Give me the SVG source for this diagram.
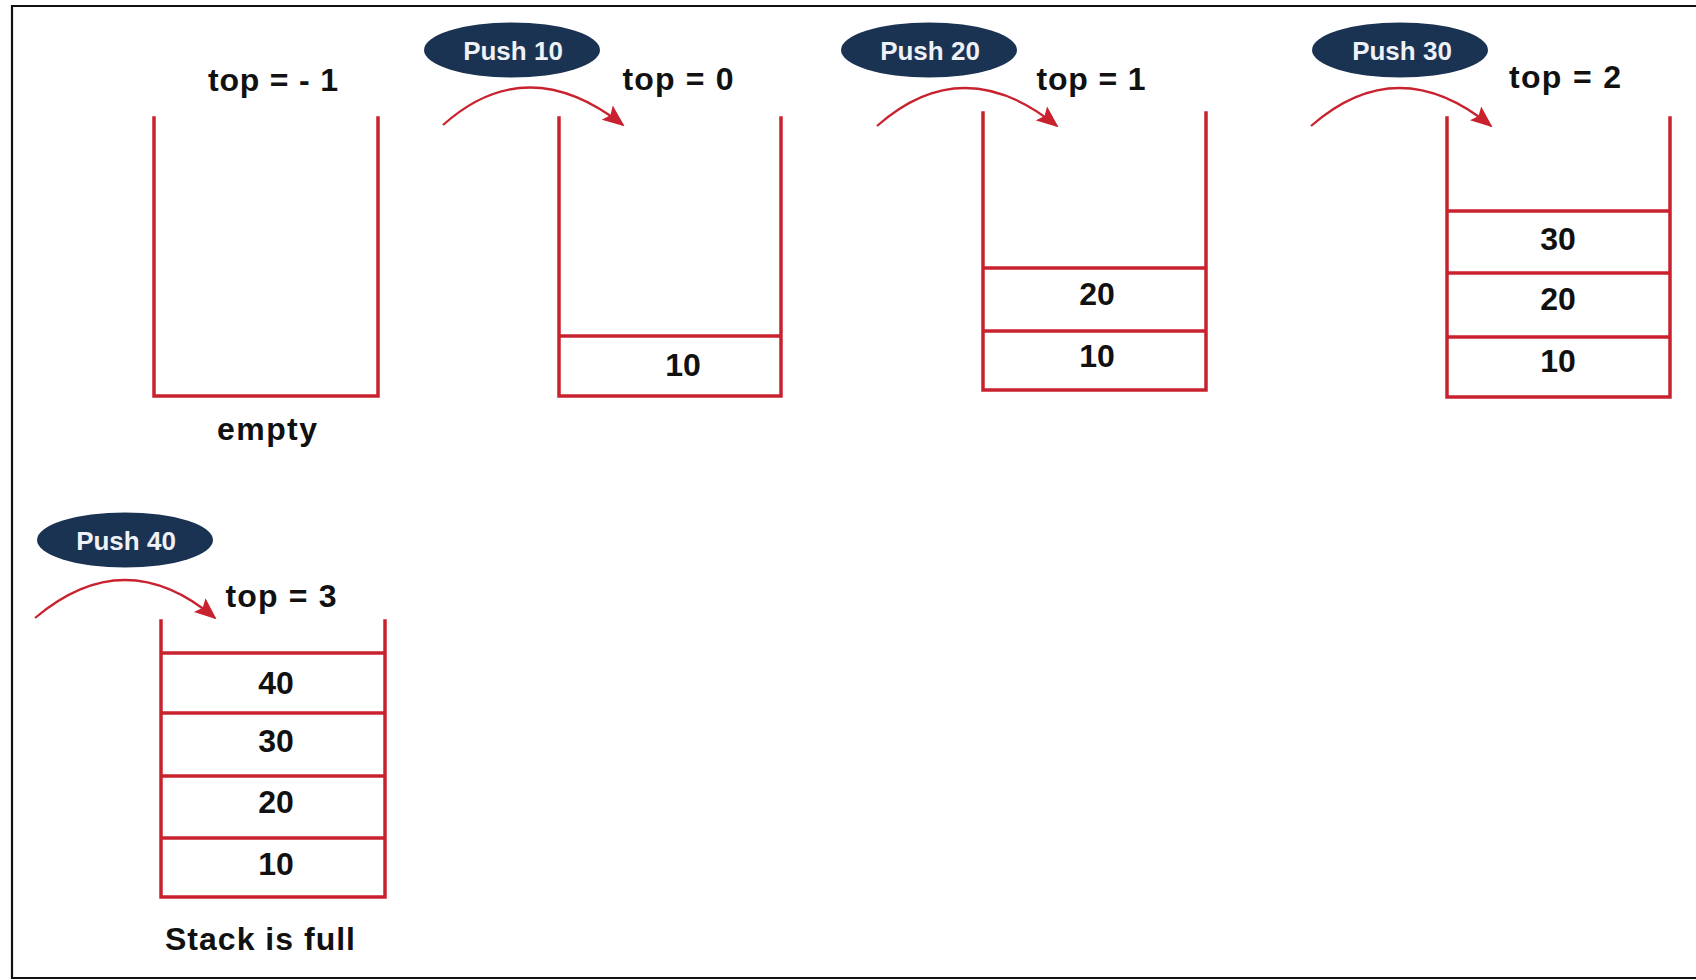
<svg xmlns="http://www.w3.org/2000/svg" width="1696" height="980" viewBox="0 0 1696 980">
  <style>
    .stack { fill: none; stroke: #c9222f; stroke-width: 3.5; stroke-linecap: square; }
    .cell { stroke: #c9222f; stroke-width: 3.5; }
    .lbl { font-family: "Liberation Sans", Arial, sans-serif; font-weight: bold; font-size: 32px; fill: #111; text-anchor: middle; }
    .pill { fill: #1b3353; }
    .pilltxt { font-family: "Liberation Sans", Arial, sans-serif; font-weight: bold; font-size: 26px; fill: #eef1f5; text-anchor: middle; }
    .push { fill: none; stroke: #c9222f; stroke-width: 2.2; }
  </style>
  <defs>
    <marker id="head" markerUnits="userSpaceOnUse" markerWidth="22" markerHeight="20" viewBox="0 0 22 20" refX="20" refY="10" orient="auto">
      <path d="M0,1 L22,10 L0,19 L4,10 z" fill="#c9222f"/>
    </marker>
  </defs>

  <rect width="1696" height="980" fill="#fff"/>
  <!-- outer frame (open on the right) -->
  <path d="M1700,6 H12 V978 H1700" fill="none" stroke="#111" stroke-width="2.2"/>

  <!-- empty stack -->
  <g id="stack-empty">
    <path class="stack" d="M154,118 V396 H378 V118"/>
    <text class="lbl" x="273" y="91" textLength="130" lengthAdjust="spacing">top = - 1</text>
    <text class="lbl" x="267" y="440" textLength="100" lengthAdjust="spacing">empty</text>
  </g>

  <!-- after push 10 -->
  <g id="stack-push10">
    <ellipse class="pill" cx="512" cy="50" rx="88" ry="27.5"/>
    <text class="pilltxt" x="513" y="60">Push 10</text>
    <text class="lbl" x="678" y="90" textLength="111" lengthAdjust="spacing">top = 0</text>
    <path class="stack" d="M559,118 V396 H781 V118"/>
    <line class="cell" x1="559" y1="336" x2="781" y2="336"/>
    <text class="lbl" x="683" y="376">10</text>
  </g>

  <!-- after push 20 -->
  <g id="stack-push20">
    <ellipse class="pill" cx="929" cy="50" rx="88" ry="27.5"/>
    <text class="pilltxt" x="930" y="60">Push 20</text>
    <text class="lbl" x="1091" y="90" textLength="109" lengthAdjust="spacing">top = 1</text>
    <path class="stack" d="M983,113 V390 H1206 V113"/>
    <line class="cell" x1="983" y1="268" x2="1206" y2="268"/>
    <line class="cell" x1="983" y1="331" x2="1206" y2="331"/>
    <text class="lbl" x="1097" y="305">20</text>
    <text class="lbl" x="1097" y="367">10</text>
  </g>

  <!-- after push 30 -->
  <g id="stack-push30">
    <ellipse class="pill" cx="1400" cy="50" rx="88" ry="27.5"/>
    <text class="pilltxt" x="1402" y="60">Push 30</text>
    <text class="lbl" x="1565" y="88" textLength="112" lengthAdjust="spacing">top = 2</text>
    <path class="stack" d="M1447,118 V397 H1670 V118"/>
    <line class="cell" x1="1447" y1="211" x2="1670" y2="211"/>
    <line class="cell" x1="1447" y1="273" x2="1670" y2="273"/>
    <line class="cell" x1="1447" y1="337" x2="1670" y2="337"/>
    <text class="lbl" x="1558" y="250">30</text>
    <text class="lbl" x="1558" y="310">20</text>
    <text class="lbl" x="1558" y="372">10</text>
  </g>

  <!-- after push 40: full -->
  <g id="stack-push40">
    <ellipse class="pill" cx="125" cy="540" rx="88" ry="27.5"/>
    <text class="pilltxt" x="126" y="550">Push 40</text>
    <text class="lbl" x="281" y="607" textLength="111" lengthAdjust="spacing">top = 3</text>
    <path class="stack" d="M161,621 V897 H385 V621"/>
    <line class="cell" x1="161" y1="653" x2="385" y2="653"/>
    <line class="cell" x1="161" y1="713" x2="385" y2="713"/>
    <line class="cell" x1="161" y1="776" x2="385" y2="776"/>
    <line class="cell" x1="161" y1="838" x2="385" y2="838"/>
    <text class="lbl" x="276" y="694">40</text>
    <text class="lbl" x="276" y="752">30</text>
    <text class="lbl" x="276" y="813">20</text>
    <text class="lbl" x="276" y="875">10</text>
    <text class="lbl" x="260" y="950" textLength="190" lengthAdjust="spacing">Stack is full</text>
  </g>

  <!-- push arrows -->
  <g id="connectors">
    <path class="push" d="M443,125 Q527,50 623,125" marker-end="url(#head)"/>
    <path class="push" d="M877,126 Q963,50 1057,126" marker-end="url(#head)"/>
    <path class="push" d="M1311,126 Q1398,50 1491,126" marker-end="url(#head)"/>
    <path class="push" d="M35,618 Q125,542 215,618" marker-end="url(#head)"/>
  </g>
</svg>
